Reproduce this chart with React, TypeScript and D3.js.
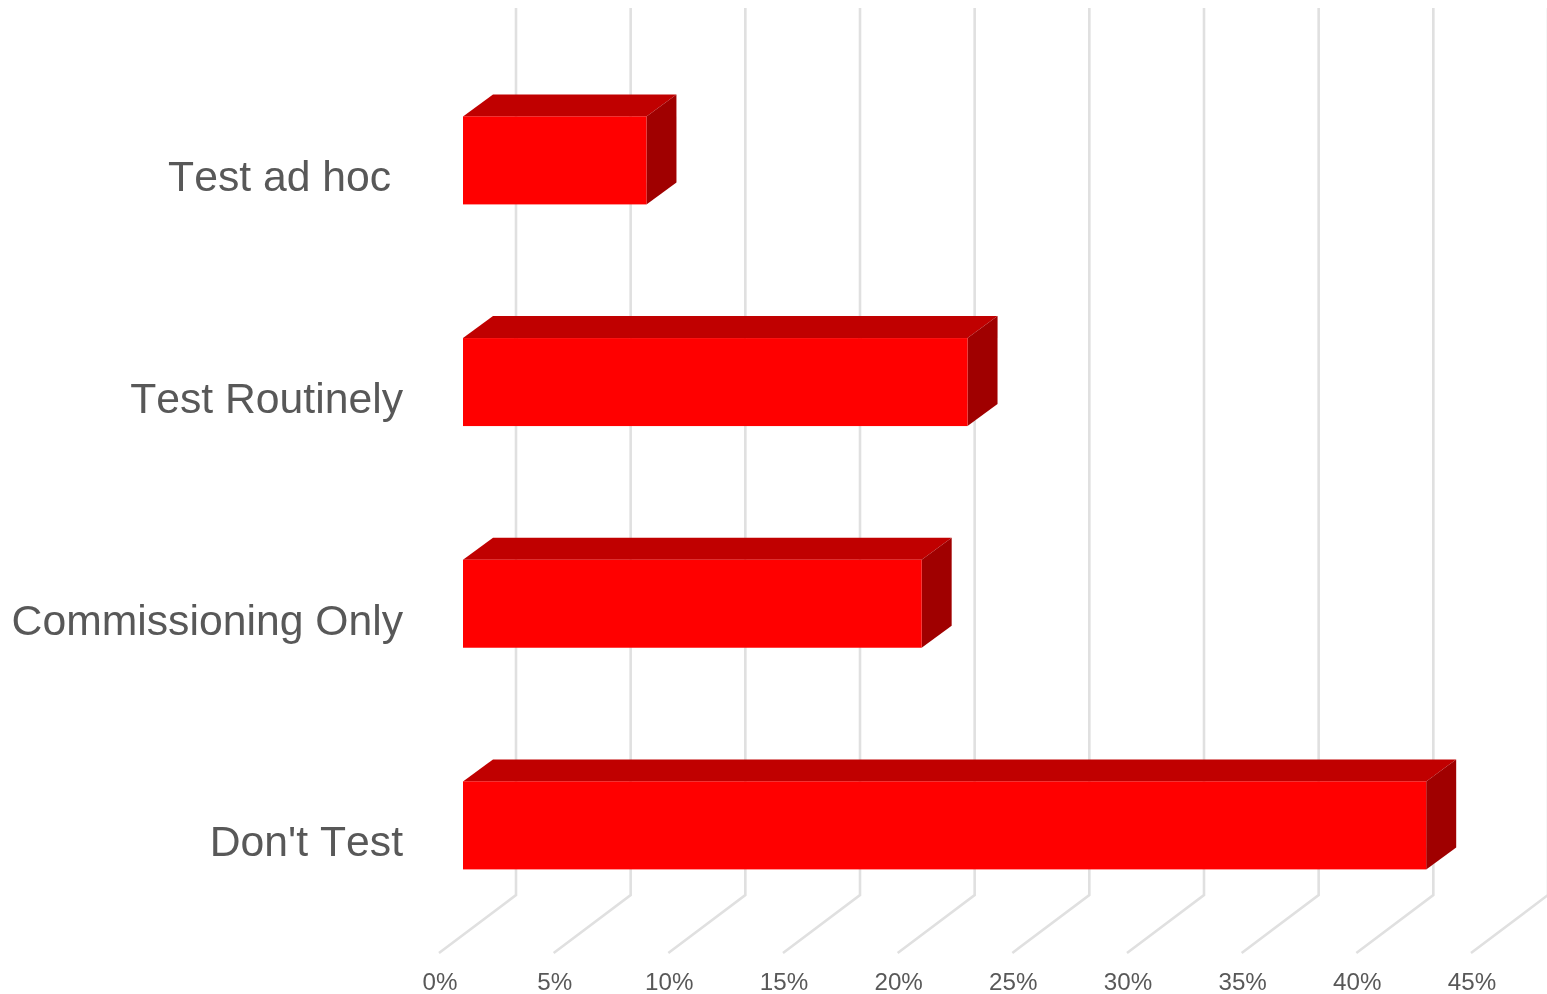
import React from "react";
import * as d3 from "d3";

const categories = ["Test ad hoc", "Test Routinely", "Commissioning Only", "Don't Test"];
const labelsShown = ["Test ad hoc ", "Test Routinely", "Commissioning Only", "Don't Test"];
const values = [8, 22, 20, 42];
const ticks = [0, 5, 10, 15, 20, 25, 30, 35, 40, 45];

const W = 1547, H = 994;
const FONT = "'Liberation Sans', Arial, sans-serif";
const TEXT = "#595959";
const GRID = "#e0e0e0";

const x = d3.scaleLinear().domain([0, 45]).range([516, 1548]);
const y = d3.scaleBand<string>().domain(categories).range([49.9, 935.9]).paddingInner(0.603).paddingOuter(0.3);

const gridTop = 8, gridBottom = 895;
const floorDx = -77, floorDy = 58;
const barOffX = -53;
const depthX = 30, depthY = -22;

const pts = (p: number[][]) => p.map((d) => d.join(",")).join(" ");

export default function App() {
  const bandH = y.bandwidth();
  return (
    <svg width={W} height={H} viewBox={`0 0 ${W} ${H}`}
      style={{ position: "absolute", left: 0, top: 0, display: "block", background: "#fff" }}>
      <defs>
        <filter id="soft" x="0" y="0" width={W} height={H} filterUnits="userSpaceOnUse">
          <feGaussianBlur stdDeviation="0.6" />
        </filter>
      </defs>
      <g filter="url(#soft)">
        {ticks.map((t) => (
          <polyline key={t} fill="none" stroke={GRID} strokeWidth={2.6}
            points={pts([[x(t), gridTop], [x(t), gridBottom], [x(t) + floorDx, gridBottom + floorDy]])} />
        ))}
        {categories.map((c, i) => {
          const x0 = x(0) + barOffX;
          const x1 = x(values[i]) + barOffX;
          const t = y(c) as number;
          const b = t + bandH;
          return (
            <g key={c}>
              <polygon fill="#c00000" points={pts([[x0, t], [x0 + depthX, t + depthY], [x1 + depthX, t + depthY], [x1, t]])} />
              <polygon fill="#a00000" points={pts([[x1, t], [x1 + depthX, t + depthY], [x1 + depthX, b + depthY], [x1, b]])} />
              <rect x={x0} y={t} width={x1 - x0} height={bandH} fill="#ff0000" />
            </g>
          );
        })}
        {categories.map((c, i) => (
          <text key={c} x={403} y={(y(c) as number) + bandH / 2 + 31} textAnchor="end" xmlSpace="preserve"
            fontFamily={FONT} fontSize={42.7} fill={TEXT} style={{ fontKerning: "none" }}>{labelsShown[i]}</text>
        ))}
        {ticks.map((t) => (
          <text key={t} x={x(t) + floorDx + 1} y={990} textAnchor="middle"
            fontFamily={FONT} fontSize={24.2} fill={TEXT}>{t}%</text>
        ))}
      </g>
    </svg>
  );
}
